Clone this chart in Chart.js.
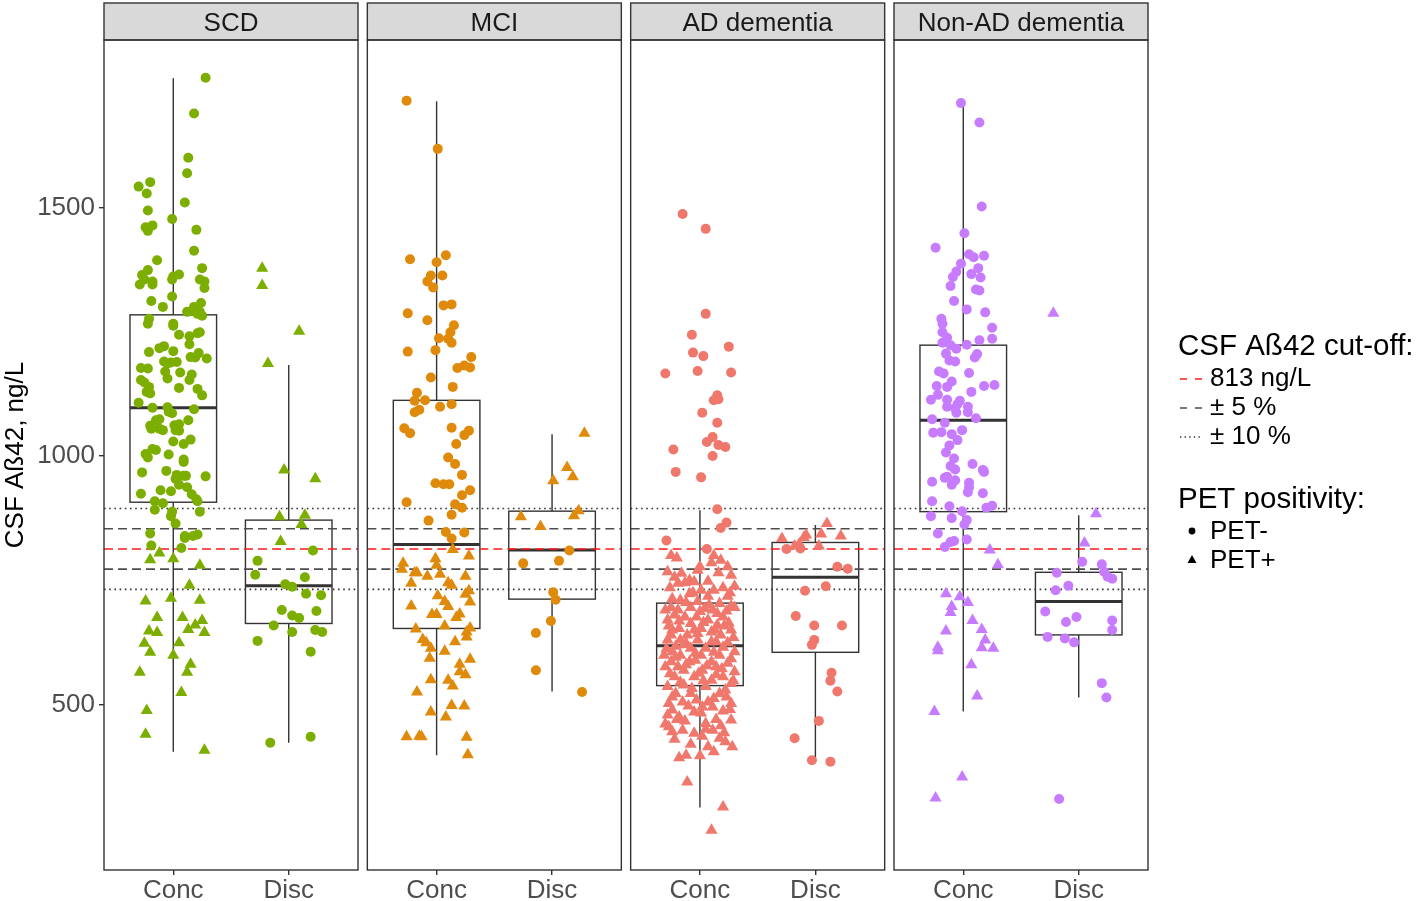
<!DOCTYPE html>
<html>
<head>
<meta charset="utf-8">
<script src="https://cdn.jsdelivr.net/npm/chart.js@4.4.1/dist/chart.umd.min.js"></script>
<style>
  html, body { margin: 0; padding: 0; background: #fff; }
  #wrap { width: 1418px; height: 901px; position: relative; }
</style>
</head>
<body>
<div id="wrap"><canvas id="chart" width="1418" height="901"></canvas></div>
<script>
// facets, groups, ticks
const panels = ['SCD', 'MCI', 'AD dementia', 'Non-AD dementia'];
const groups = ['Conc', 'Disc'];
const yTicks = [500, 1000, 1500];
const cutoff = 813;
const panelColors = ['#7CAE00', '#E08A0B', '#F0776C', '#C77CFF'];

// box stats, order: SCD Conc, SCD Disc, MCI Conc, MCI Disc, AD Conc, AD Disc, NonAD Conc, NonAD Disc
const boxLow  = [405, 423, 398, 526, 293, 388, 486, 514];
const boxQ1   = [907, 663, 653, 712, 538, 605, 888, 640];
const boxMed  = [1097, 739, 822, 811, 618, 756, 1072, 707];
const boxQ3   = [1284, 871, 1112, 889, 704, 826, 1223, 766];
const boxHigh = [1760, 1183, 1714, 1044, 891, 861, 1710, 881];

// jittered points: [jitter offset, CSF value]
const scdConcNeg = [[0.28,1761],[0.18,1689],[0.13,1600],[0.12,1569],[-0.20,1551],[-0.30,1542],[-0.23,1528],[0.10,1510],
  [-0.22,1494],[-0.01,1477],[-0.24,1460],[-0.18,1464],[-0.22,1453],[0.20,1455],[0.18,1413],[-0.14,1394],[0.25,1378],
  [-0.22,1374],[-0.27,1364],[-0.25,1355],[-0.29,1345],[-0.18,1351],[-0.18,1345],[0.00,1361],[0.05,1365],[-0.01,1355],
  [0.23,1355],[0.27,1351],[0.27,1338],[-0.19,1312],[-0.01,1321],[-0.09,1300],[0.24,1308],[0.18,1300],[0.12,1290],
  [0.16,1292],[0.21,1286],[0.25,1282],[0.23,1290],[-0.21,1276],[-0.22,1266],[0.00,1266],[0.00,1262],[0.05,1244],
  [0.14,1241],[0.21,1247],[0.23,1249],[0.14,1225],[-0.08,1221],[-0.12,1217],[-0.21,1209],[0.00,1211],[0.15,1199],
  [0.19,1198],[0.22,1207],[0.29,1196],[-0.08,1190],[-0.02,1188],[0.03,1189],[-0.05,1186],[-0.28,1177],[-0.22,1176],
  [-0.07,1170],[0.06,1168],[0.16,1164],[0.14,1153],[-0.05,1156],[-0.28,1153],[-0.25,1148],[-0.21,1139],[0.05,1137],
  [0.21,1135],[-0.23,1129],[-0.20,1126],[0.25,1122],[-0.30,1107],[-0.18,1097],[-0.05,1098],[-0.04,1089],[-0.01,1086],
  [0.18,1094],[-0.15,1072],[-0.12,1074],[0.13,1072],[-0.20,1061],[-0.19,1055],[-0.12,1055],[-0.09,1052],[0.01,1062],
  [0.05,1064],[0.02,1052],[0.05,1051],[0.00,1029],[0.09,1024],[0.15,1033],[-0.18,1014],[-0.15,1012],[-0.24,1004],
  [-0.04,1003],[-0.22,997],[0.09,993],[0.09,988],[-0.27,967],[-0.06,970],[0.03,962],[0.02,954],[0.09,960],[0.11,960],
  [0.28,959],[0.05,942],[0.12,937],[-0.28,924],[-0.11,931],[-0.02,929],[0.16,923],[0.20,913],[0.21,909],[-0.16,909],
  [-0.09,905],[-0.16,892],[-0.01,888],[-0.02,879],[0.23,888],[0.02,864],[-0.20,844],[0.10,839],[0.10,835],[0.17,839],
  [0.21,842],[-0.19,820],[0.07,815]];
const scdConcPos = [[-0.12,805],[-0.20,791],[0.00,793],[0.23,780],[0.14,740],[-0.24,708],[-0.02,714],[0.23,710],
  [-0.14,675],[0.08,675],[0.25,669],[0.19,660],[-0.21,648],[-0.14,645],[0.13,651],[0.27,645],[-0.25,623],[0.05,624],
  [-0.20,605],[0.00,599],[0.15,581],[-0.29,565],[0.12,565],[0.07,524],[-0.23,488],[-0.24,440],[0.27,408]];
const scdDiscNeg = [[0.21,810],[-0.27,789],[-0.29,761],[0.14,756],[-0.03,742],[0.03,737],[0.15,723],[0.28,720],
  [-0.06,690],[0.03,679],[0.09,674],[0.24,688],[-0.13,659],[0.03,646],[0.23,650],[0.29,646],[-0.27,628],[0.19,606],
  [-0.16,423],[0.19,435]];
const scdDiscPos = [[-0.23,1378],[-0.23,1343],[0.09,1251],[-0.18,1186],[-0.04,972],[0.23,954],[-0.08,878],[0.14,881],
  [0.11,862],[-0.07,828]];

const mciConcNeg = [[-0.26,1715],[0.01,1618],[0.08,1404],[-0.23,1396],[0.00,1390],[-0.05,1363],[0.05,1363],[-0.08,1351],
  [-0.03,1339],[0.06,1303],[0.13,1305],[-0.25,1287],[-0.08,1273],[0.15,1263],[0.12,1249],[0.02,1237],[0.10,1236],
  [0.13,1228],[-0.25,1210],[-0.01,1213],[0.30,1199],[0.18,1177],[0.24,1182],[0.29,1178],[-0.05,1158],[0.14,1139],
  [-0.17,1127],[-0.19,1111],[-0.10,1112],[0.13,1104],[0.03,1099],[-0.19,1088],[-0.15,1093],[-0.28,1056],[-0.23,1046],
  [0.13,1057],[0.28,1051],[0.24,1042],[0.17,1024],[0.10,997],[0.16,984],[0.22,962],[-0.01,945],[0.06,943],[0.11,943],
  [0.29,931],[0.22,921],[-0.26,907],[0.16,903],[0.22,896],[0.13,882],[-0.07,870],[0.08,847],[0.24,846],[0.13,834]];
const mciConcPos = [[0.14,812],[0.28,799],[-0.29,784],[-0.01,793],[0.00,780],[-0.30,772],[-0.19,765],[-0.17,765],
  [-0.08,758],[0.03,762],[0.25,758],[-0.22,744],[0.10,745],[0.13,740],[0.28,729],[0.25,722],[0.01,719],[0.07,707],
  [0.10,697],[0.29,706],[-0.22,698],[-0.04,681],[0.00,681],[0.17,675],[0.20,682],[0.07,658],[-0.18,652],[0.29,654],
  [0.26,646],[0.26,636],[-0.12,631],[-0.09,624],[-0.05,613],[0.16,626],[0.07,607],[-0.06,593],[0.29,591],[0.20,581],
  [0.20,566],[0.25,560],[-0.05,550],[0.10,549],[0.14,537],[-0.17,525],[0.13,498],[0.24,497],[-0.05,485],[0.08,475],
  [-0.26,435],[-0.15,436],[-0.13,435],[0.26,434],[0.27,399]];
const mciDiscNeg = [[0.15,810],[-0.25,784],[0.06,789],[0.01,726],[0.03,711],[-0.01,668],[-0.14,644],[-0.14,569],[0.26,525]];
const mciDiscPos = [[0.28,1046],[0.13,977],[0.18,958],[0.01,950],[0.23,890],[0.19,880],[-0.27,878],[-0.10,858]];

const adConcNeg = [[-0.15,1487],[0.05,1457],[0.05,1286],[-0.07,1244],[-0.06,1208],[0.03,1201],[0.25,1220],[-0.30,1166],
  [-0.02,1171],[0.27,1168],[0.15,1122],[0.12,1112],[0.16,1114],[0.02,1087],[0.15,1067],[0.11,1038],[0.06,1028],
  [0.16,1022],[0.22,1018],[-0.23,1013],[0.11,1000],[-0.21,968],[0.01,957],[0.15,893],[0.23,866],[0.18,855],
  [-0.29,830],[0.06,813]];
const adConcPos = [[-0.25,800],[0.12,800],[0.10,785],[0.00,777],[0.24,777],[-0.28,767],[-0.16,764],[0.27,760],
  [-0.22,756],[-0.09,750],[-0.05,747],[0.07,748],[-0.19,744],[-0.13,745],[0.30,738],[0.01,730],[0.12,730],[-0.09,723],
  [-0.24,713],[0.07,718],[0.24,718],[-0.17,710],[-0.02,707],[0.17,703],[0.27,698],[-0.25,695],[-0.08,695],[0.04,693],
  [0.11,690],[0.30,695],[-0.22,680],[-0.13,676],[-0.03,676],[0.20,676],[-0.28,670],[0.07,670],[-0.08,663],[0.15,660],
  [-0.18,653],[0.01,653],[0.27,650],[0.10,646],[-0.25,640],[-0.11,640],[0.18,640],[-0.28,630],[-0.17,630],[-0.02,630],
  [0.14,626],[0.24,624],[-0.21,617],[-0.08,613],[0.05,613],[0.30,606],[-0.31,599],[-0.17,599],[0.01,599],[0.17,599],
  [-0.25,586],[-0.09,586],[0.10,586],[0.24,583],[-0.30,576],[-0.14,569],[0.02,569],[0.30,566],[-0.22,556],[-0.05,556],
  [0.20,556],[0.10,549],[-0.28,536],[-0.14,539],[0.05,536],[0.27,542],[0.17,522],[-0.21,522],[-0.03,509],[-0.27,502],
  [-0.15,505],[0.27,502],[0.07,505],[-0.24,489],[-0.05,485],[0.20,487],[0.01,483],[-0.18,475],[-0.13,467],[0.27,469],
  [-0.30,461],[0.18,457],[-0.24,445],[-0.05,442],[0.11,448],[0.02,436],[0.21,443],[0.17,432],[0.07,415],[0.28,415],
  [-0.18,393],[-0.12,398],[0.00,397],[-0.11,344],[0.20,294],[0.10,247],
  [-0.19,690],[0.00,687],[0.15,683],[-0.27,658],[-0.05,650],[0.21,658],[-0.12,623],[0.10,626],[-0.24,606],[-0.04,589],
  [0.14,576],[-0.19,576],[0.22,529],[-0.08,522],[0.11,495],[-0.28,479],[0.05,462],[-0.15,448],
  [-0.20,795],[0.18,790],[-0.02,770],[0.16,765],[-0.26,735],[0.20,735],[-0.06,725],[0.26,725],[-0.12,705],[0.08,700],
  [-0.30,690],[0.23,688],[-0.18,668],[0.03,665],[0.25,664],[-0.24,650],[0.13,650],[-0.02,643],[0.29,635],[-0.14,620],
  [0.20,615],[-0.29,612],[-0.04,603],[0.12,605],[0.27,592],[-0.21,595],[-0.12,580],[0.06,578],[0.19,572],[-0.26,562],
  [-0.01,563],[0.14,560],[0.29,548],[-0.17,545],[0.03,548],[-0.07,532],[0.23,515],[-0.24,515],[0.12,512],[-0.10,497],
  [0.02,495],[0.26,490],[-0.20,470],[0.14,470],[-0.27,455],[0.05,450],[0.22,425],[-0.08,420],[-0.22,430],[0.12,405]];
const adDiscNeg = [[-0.25,813],[-0.13,814],[0.19,777],[0.28,773],[0.09,738],[-0.09,729],[-0.17,678],[-0.01,659],
  [0.23,659],[-0.01,630],[-0.03,620],[0.14,564],[0.13,548],[0.19,526],[0.03,467],[-0.18,432],[-0.03,388],[0.13,385]];
const adDiscPos = [[0.10,864],[-0.29,834],[-0.10,836],[0.05,843],[0.22,839],[-0.08,841],[-0.18,819],[0.03,819],[-0.14,823]];

const nadConcNeg = [[-0.02,1710],[0.14,1671],[0.16,1502],[0.01,1448],[-0.24,1419],[0.05,1406],[0.09,1400],[0.18,1403],
  [-0.02,1387],[-0.06,1371],[0.13,1378],[-0.09,1360],[0.07,1366],[0.15,1359],[-0.11,1342],[0.11,1335],[0.14,1333],
  [-0.08,1312],[0.03,1295],[0.19,1289],[-0.19,1276],[-0.18,1266],[0.25,1258],[-0.18,1249],[-0.14,1238],[0.25,1236],
  [-0.18,1228],[0.14,1233],[-0.11,1223],[-0.06,1216],[0.03,1224],[-0.15,1206],[0.10,1198],[0.12,1205],[-0.12,1192],
  [-0.07,1190],[-0.21,1170],[-0.17,1166],[0.05,1167],[-0.23,1141],[-0.14,1139],[-0.10,1150],[0.18,1141],[0.27,1143],
  [0.07,1129],[-0.28,1113],[-0.22,1123],[-0.14,1113],[-0.14,1099],[-0.03,1111],[-0.05,1104],[-0.07,1096],[-0.06,1087],
  [0.04,1099],[0.04,1088],[-0.27,1074],[-0.16,1067],[0.11,1076],[-0.26,1047],[-0.19,1048],[-0.10,1044],[-0.01,1052],
  [-0.05,1032],[-0.12,1021],[-0.15,1007],[-0.08,995],[-0.11,980],[-0.07,973],[0.08,984],[0.17,972],[0.18,968],
  [-0.27,948],[-0.16,956],[-0.14,958],[-0.07,951],[-0.10,942],[0.05,946],[0.05,937],[0.04,927],[0.17,925],[-0.27,909],
  [-0.12,899],[0.20,896],[0.25,900],[-0.28,879],[-0.10,875],[-0.01,889],[0.03,871],[0.01,862],[-0.22,844],[0.03,832],
  [-0.11,827],[-0.08,829],[-0.16,817]];
const nadConcPos = [[0.23,811],[0.30,781],[-0.15,723],[-0.03,717],[0.04,705],[-0.10,697],[-0.11,685],[0.08,669],
  [-0.15,648],[0.16,651],[0.19,630],[-0.22,615],[-0.22,608],[0.16,614],[0.26,613],[0.07,580],[0.12,517],[-0.25,486],
  [-0.01,354],[-0.24,312]];
const nadDiscNeg = [[0.03,787],[0.20,782],[0.22,767],[0.25,757],[0.29,753],[-0.19,765],[-0.20,730],[-0.09,739],
  [-0.29,687],[-0.11,666],[-0.02,676],[0.29,669],[0.29,650],[-0.27,636],[-0.12,633],[-0.04,625],[0.20,543],[0.24,514],
  [-0.17,310]];
const nadDiscPos = [[-0.22,1287],[0.15,884],[0.05,825]];

const pointsNeg = [[scdConcNeg, scdDiscNeg], [mciConcNeg, mciDiscNeg], [adConcNeg, adDiscNeg], [nadConcNeg, nadDiscNeg]];
const pointsPos = [[scdConcPos, scdDiscPos], [mciConcPos, mciDiscPos], [adConcPos, adDiscPos], [nadConcPos, nadDiscPos]];

// x layout: each facet spans 2.2 units (0.6 pad either side), small gap between facets
const facetW = 2.2;
const facetGap = 0.0808;
const panelStart = (k) => k * (facetW + facetGap);
const xMax = 4 * facetW + 3 * facetGap;
const catPos = (k, g) => panelStart(k) + 0.6 + g;

const FONT = '"Liberation Sans", Arial, sans-serif';
Chart.defaults.font.family = FONT;

const toXY = (k, sets) => sets.flatMap((pts, g) => pts.map(([off, v]) => ({ x: catPos(k, g) + off, y: v })));

const datasets = [];
panels.forEach((name, k) => {
  datasets.push({
    label: name + ' PET-', data: toXY(k, pointsNeg[k]),
    pointStyle: 'circle', pointRadius: 5, pointBorderWidth: 0,
    backgroundColor: panelColors[k], borderColor: panelColors[k], showLine: false,
  });
  datasets.push({
    label: name + ' PET+', data: toXY(k, pointsPos[k]),
    pointStyle: 'triangle', pointRadius: 7, pointBorderWidth: 0,
    backgroundColor: panelColors[k], borderColor: panelColors[k], showLine: false,
  });
});

// boxes + cut-off lines under the points
const facetBack = {
  id: 'facetBack',
  beforeDatasetsDraw(chart) {
    const { ctx, scales: { x, y } } = chart;
    ctx.save();
    panels.forEach((p, k) => {
      groups.forEach((g, gi) => {
        const i = k * 2 + gi;
        const cx = catPos(k, gi);
        const px = x.getPixelForValue(cx);
        const l = x.getPixelForValue(cx - 0.375), r = x.getPixelForValue(cx + 0.375);
        const yLo = y.getPixelForValue(boxLow[i]), yQ1 = y.getPixelForValue(boxQ1[i]);
        const yMed = y.getPixelForValue(boxMed[i]), yQ3 = y.getPixelForValue(boxQ3[i]);
        const yHi = y.getPixelForValue(boxHigh[i]);
        ctx.strokeStyle = '#333333';
        ctx.lineWidth = 1.4;
        ctx.setLineDash([]);
        ctx.beginPath();
        ctx.moveTo(px, yHi); ctx.lineTo(px, yQ3);
        ctx.moveTo(px, yQ1); ctx.lineTo(px, yLo);
        ctx.stroke();
        ctx.fillStyle = '#ffffff';
        ctx.fillRect(l, yQ3, r - l, yQ1 - yQ3);
        ctx.strokeRect(l, yQ3, r - l, yQ1 - yQ3);
        ctx.lineWidth = 3;
        ctx.beginPath();
        ctx.moveTo(l, yMed); ctx.lineTo(r, yMed);
        ctx.stroke();
      });
      const x0 = x.getPixelForValue(panelStart(k)), x1 = x.getPixelForValue(panelStart(k) + facetW);
      const lines = [
        { v: cutoff * 1.1, c: '#333333', d: [1.6, 3.6] },
        { v: cutoff * 0.9, c: '#333333', d: [1.6, 3.6] },
        { v: cutoff * 1.05, c: '#4d4d4d', d: [9, 5] },
        { v: cutoff * 0.95, c: '#4d4d4d', d: [9, 5] },
        { v: cutoff, c: '#ff1a1a', d: [9, 5] },
      ];
      lines.forEach((ln) => {
        const yy = y.getPixelForValue(ln.v);
        ctx.strokeStyle = ln.c;
        ctx.lineWidth = 1.6;
        ctx.setLineDash(ln.d);
        ctx.beginPath();
        ctx.moveTo(x0, yy); ctx.lineTo(x1, yy);
        ctx.stroke();
      });
    });
    ctx.restore();
  },
  afterDatasetsDraw(chart) {
    const { ctx, scales: { x }, chartArea } = chart;
    ctx.save();
    ctx.setLineDash([]);
    panels.forEach((p, k) => {
      const x0 = x.getPixelForValue(panelStart(k)), x1 = x.getPixelForValue(panelStart(k) + facetW);
      // strip
      ctx.fillStyle = '#d9d9d9';
      ctx.fillRect(x0, 3, x1 - x0, chartArea.top - 3);
      ctx.strokeStyle = '#333333';
      ctx.lineWidth = 1.4;
      ctx.strokeRect(x0, 3, x1 - x0, chartArea.top - 3);
      ctx.strokeRect(x0, chartArea.top, x1 - x0, chartArea.bottom - chartArea.top);
      ctx.fillStyle = '#1a1a1a';
      ctx.font = '26px ' + FONT;
      ctx.textAlign = 'center';
      ctx.textBaseline = 'middle';
      ctx.fillText(p, (x0 + x1) / 2, (3 + chartArea.top) / 2 + 2);
    });

    // legend
    ctx.textAlign = 'left';
    ctx.textBaseline = 'middle';
    ctx.fillStyle = '#000';
    ctx.font = '29.5px ' + FONT;
    ctx.fillText('CSF Aß42 cut-off:', 1178, 347);
    ctx.fillText('PET positivity:', 1178, 500);
    ctx.font = '26px ' + FONT;
    const keys = [
      { t: '813 ng/L', y: 379, c: '#ff1a1a', d: [7, 8] },
      { t: '± 5 %', y: 408, c: '#4d4d4d', d: [7, 8] },
      { t: '± 10 %', y: 437, c: '#333333', d: [1.4, 3.2] },
    ];
    keys.forEach((kk) => {
      ctx.strokeStyle = kk.c;
      ctx.lineWidth = 1.6;
      ctx.setLineDash(kk.d);
      ctx.beginPath();
      ctx.moveTo(1180, kk.y); ctx.lineTo(1203, kk.y);
      ctx.stroke();
      ctx.fillText(kk.t, 1210, kk.y);
    });
    ctx.setLineDash([]);
    ctx.fillText('PET-', 1210, 532);
    ctx.fillText('PET+', 1210, 561);
    ctx.beginPath();
    ctx.arc(1192, 531, 3.4, 0, Math.PI * 2);
    ctx.fill();
    ctx.beginPath();
    ctx.moveTo(1192, 555); ctx.lineTo(1196.5, 563); ctx.lineTo(1187.5, 563);
    ctx.closePath();
    ctx.fill();
    ctx.restore();
  },
};

new Chart(document.getElementById('chart'), {
  type: 'scatter',
  data: { datasets },
  options: {
    responsive: false,
    animation: false,
    layout: { padding: { top: 40, right: 270, left: 0, bottom: 0 } },
    plugins: { legend: { display: false }, tooltip: { enabled: false } },
    scales: {
      x: {
        type: 'linear', min: 0, max: xMax,
        afterBuildTicks: (s) => { s.ticks = panels.flatMap((p, k) => groups.map((g, gi) => ({ value: catPos(k, gi) }))); },
        afterFit: (s) => { s.height = 31; },
        ticks: {
          autoSkip: false, maxRotation: 0, padding: 0,
          color: '#4d4d4d', font: { size: 26 },
          callback: (v, i) => groups[i % 2],
        },
        grid: { drawOnChartArea: false, drawTicks: true, tickLength: 5, color: '#333333', lineWidth: 1.4 },
        border: { display: false },
      },
      y: {
        type: 'linear', min: 167, max: 1837,
        afterBuildTicks: (s) => { s.ticks = yTicks.map((v) => ({ value: v })); },
        afterFit: (s) => { s.width = 104; },
        ticks: { color: '#4d4d4d', font: { size: 26 }, padding: 4, callback: (v) => String(v) },
        grid: { drawOnChartArea: false, drawTicks: true, tickLength: 5, color: '#333333', lineWidth: 1.4 },
        border: { display: false },
        title: { display: true, text: 'CSF Aß42, ng/L', color: '#000', font: { size: 26 }, padding: 0 },
      },
    },
  },
  plugins: [facetBack],
});
</script>
</body>
</html>
